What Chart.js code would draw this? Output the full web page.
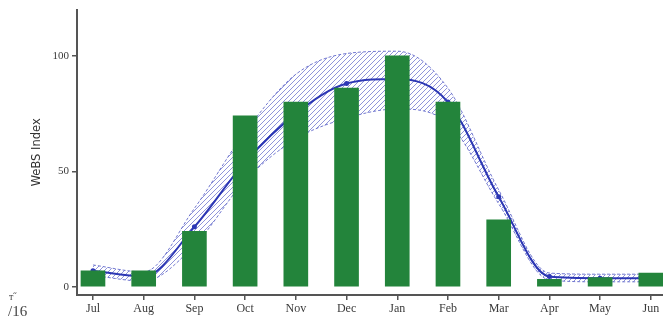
<!DOCTYPE html>
<html>
<head>
<meta charset="utf-8">
<script src="https://cdn.jsdelivr.net/npm/chart.js@4/dist/chart.umd.min.js"></script>
<style>
  html, body { margin: 0; padding: 0; background: #ffffff; overflow: hidden; }
  #wrap { width: 663px; height: 320px; overflow: hidden; }
</style>
</head>
<body>
<div id="wrap"><canvas id="c" width="669" height="320"></canvas></div>
<script>
// Months of the survey year (July to June)
const months = ['Jul', 'Aug', 'Sep', 'Oct', 'Nov', 'Dec', 'Jan', 'Feb', 'Mar', 'Apr', 'May', 'Jun'];
// Monthly index for the season (bars)
const seasonIndex = [7, 7, 24, 74, 80, 86, 100, 80, 29, 3.3, 4, 6];
// Long-term mean index and its confidence band
const meanIndex = [7, 4.5, 26, 54, 75, 88, 90, 80, 39, 4.5, 3.8, 3.8];
const upperBand = [9.5, 6.5, 34, 67, 92, 101, 102, 86, 42, 6, 5.5, 5.5];
const lowerBand = [5, 2.5, 18, 46, 64, 73, 77, 71, 36, 3, 2.2, 2.2];
const yTicks = [0, 50, 100];

const toPoints = arr => arr.map((v, i) => ({ x: i, y: v }));

// Diagonal hatching for the confidence band
function hatchPattern() {
  const s = 5;
  const c = document.createElement('canvas');
  c.width = s; c.height = s;
  const g = c.getContext('2d');
  g.strokeStyle = 'rgba(105,112,205,0.75)';
  g.lineWidth = 1;
  g.beginPath();
  g.moveTo(0, s); g.lineTo(s, 0);
  g.moveTo(-1, 1); g.lineTo(1, -1);
  g.moveTo(s - 1, s + 1); g.lineTo(s + 1, s - 1);
  g.stroke();
  return g.createPattern(c, 'repeat');
}

// Small marginal text in the lower-left corner
const cornerText = {
  id: 'cornerText',
  afterDraw(chart) {
    const ctx = chart.ctx;
    ctx.save();
    ctx.fillStyle = '#444';
    ctx.textBaseline = 'middle';
    ctx.textAlign = 'left';
    ctx.font = '10px "Liberation Serif", serif';
    ctx.fillText('т\u02dd', 9, 297);
    ctx.font = '15px "Liberation Serif", serif';
    ctx.fillText('/16', 8, 312);
    ctx.restore();
  }
};

const borderColor = '#555555';

new Chart(document.getElementById('c'), {
  type: 'bar',
  data: {
    datasets: [
      {
        type: 'bar',
        label: 'Index',
        data: toPoints(seasonIndex),
        backgroundColor: '#23843b',
        barThickness: 24,
        order: 1
      },
      {
        type: 'line',
        label: 'Mean',
        data: toPoints(meanIndex),
        borderColor: '#2c37b4',
        backgroundColor: '#2c37b4',
        borderWidth: 2,
        pointRadius: 1.5,
        cubicInterpolationMode: 'monotone',
        fill: false,
        order: 2
      },
      {
        type: 'line',
        label: 'Upper',
        data: toPoints(upperBand),
        borderColor: 'rgba(90,98,200,0.85)',
        borderWidth: 1,
        borderDash: [3, 2],
        pointRadius: 0,
        cubicInterpolationMode: 'monotone',
        fill: false,
        order: 3
      },
      {
        type: 'line',
        label: 'Lower',
        data: toPoints(lowerBand),
        borderColor: 'rgba(90,98,200,0.85)',
        borderWidth: 1,
        borderDash: [3, 2],
        pointRadius: 0,
        cubicInterpolationMode: 'monotone',
        fill: { target: '-1' },
        backgroundColor: hatchPattern(),
        order: 3
      }
    ]
  },
  options: {
    responsive: false,
    animation: false,
    layout: { padding: { top: 8, right: 0, left: 0, bottom: 0 } },
    plugins: {
      legend: { display: false },
      tooltip: { enabled: false }
    },
    scales: {
      x: {
        type: 'linear',
        offset: false,
        min: -0.315,
        max: 11.24,
        afterBuildTicks: s => { s.ticks = months.map((m, i) => ({ value: i })); },
        afterFit: s => { s.height = 25; },
        ticks: {
          callback: v => months[v],
          autoSkip: false,
          maxRotation: 0,
          padding: 2,
          color: '#3a3a3a',
          font: { family: '"Liberation Serif", "DejaVu Serif", serif', size: 12 }
        },
        grid: {
          display: true,
          offset: false,
          drawOnChartArea: false,
          drawTicks: true,
          tickLength: 5,
          color: borderColor,
          lineWidth: 1.5
        },
        border: { display: true, color: borderColor, width: 2 }
      },
      y: {
        type: 'linear',
        min: -3.5,
        max: 120,
        afterBuildTicks: s => { s.ticks = yTicks.map(v => ({ value: v })); },
        afterFit: s => { s.width = 77; },
        ticks: {
          padding: 3,
          color: '#3a3a3a',
          font: { family: '"Liberation Serif", "DejaVu Serif", serif', size: 11 }
        },
        grid: {
          display: true,
          drawOnChartArea: false,
          drawTicks: true,
          tickLength: 5,
          color: borderColor,
          lineWidth: 1.5
        },
        border: { display: true, color: borderColor, width: 2 },
        title: {
          display: true,
          text: 'WeBS Index',
          color: '#333333',
          padding: { top: 30, bottom: 0 },
          font: { family: '"DejaVu Sans", sans-serif', size: 11.5 }
        }
      }
    }
  },
  plugins: [cornerText]
});
</script>
</body>
</html>
